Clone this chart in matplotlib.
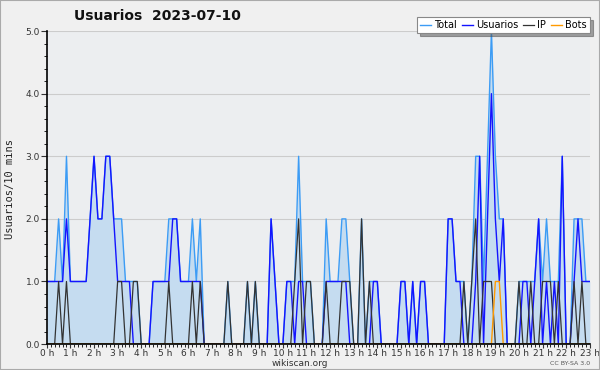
import matplotlib
matplotlib.use("Agg")
import matplotlib.pyplot as plt
import numpy as np

# 10-minute samples, 0:00 .. 23:00
usuarios = [1,1,1,1,1,2,1,1,1,1,1,2,
            3,2,2,3,3,2,1,1,1,1,0,0,
            0,0,0,1,1,1,1,1,2,2,1,1,
            1,1,1,1,0,0,0,0,0,0,0,0,
            0,0,0,0,0,0,0,0,0,2,1,0,
            0,1,1,0,1,1,0,0,0,0,0,1,
            1,1,1,1,1,0,0,0,0,0,0,1,
            1,0,0,0,0,0,1,1,0,1,0,1,
            1,0,0,0,0,0,2,2,1,1,0,0,
            0,1,3,0,2,4,2,1,2,0,0,0,
            0,1,1,0,1,2,0,1,0,1,0,3,
            0,0,1,2,1,1,1]
ip = [0,0,0,1,0,1,0,0,0,0,0,0,
      0,0,0,0,0,0,1,1,0,0,1,1,
      0,0,0,0,0,0,0,1,0,0,0,0,
      0,1,0,1,0,0,0,0,0,0,1,0,
      0,0,0,1,0,1,0,0,0,0,0,0,
      0,0,0,1,2,0,1,1,0,0,0,1,
      0,0,0,1,1,1,0,0,2,0,1,0,
      0,0,0,0,0,0,0,0,0,0,0,0,
      0,0,0,0,0,0,0,0,0,0,1,0,
      1,2,0,1,1,1,0,0,0,0,0,0,
      1,0,0,1,0,0,1,1,1,0,1,0,
      0,0,1,0,1,0,0]
bots = [0,0,0,0,0,0,0,0,0,0,0,0,
        0,0,0,0,0,0,0,0,0,0,0,0,
        0,0,0,0,0,0,0,0,0,0,0,0,
        0,0,0,0,0,0,0,0,0,0,0,0,
        0,0,0,0,0,0,0,0,0,0,0,0,
        0,0,0,0,0,0,0,0,0,0,0,0,
        0,0,0,0,0,0,0,0,0,0,0,0,
        0,0,0,0,0,0,0,0,0,0,0,0,
        0,0,0,0,0,0,0,0,0,0,0,0,
        0,0,0,0,0,0,1,1,0,0,0,0,
        0,0,0,0,0,0,0,0,0,0,0,0,
        0,0,0,0,0,0,0]
total = [1,1,1,2,1,3,1,1,1,1,1,2,
         3,2,2,3,3,2,2,2,1,1,1,1,
         0,0,0,1,1,1,1,2,2,2,1,1,
         1,2,1,2,0,0,0,0,0,0,1,0,
         0,0,0,1,0,1,0,0,0,2,1,0,
         0,1,1,1,3,1,1,1,0,0,0,2,
         1,1,1,2,2,1,0,0,2,0,1,1,
         1,0,0,0,0,0,1,1,0,1,0,1,
         1,0,0,0,0,0,2,2,1,1,1,0,
         1,3,3,1,3,5,3,2,2,0,0,0,
         1,1,1,1,1,2,1,2,1,1,1,3,
         0,0,2,2,2,1,1]
hour_labels = ["%d h" % h for h in range(24)]

x = np.arange(len(total))

fig = plt.figure(figsize=(6, 3.7), dpi=100, facecolor="#f0f0f0")
ax = fig.add_axes([0.078, 0.07, 0.905, 0.846])
ax.set_facecolor("#eceef0")

ax.fill_between(x, total, 0, color="#c5dcf0", lw=0)
ax.plot(x, total, color="#3c9cf5", lw=1, label="Total")
ax.plot(x, usuarios, color="#1414ff", lw=1, label="Usuarios")
ax.plot(x, ip, color="#333333", lw=0.9, label="IP")
ax.plot(x, bots, color="#ff9a00", lw=1, label="Bots")

ax.set_xlim(0, len(total) - 1)
ax.set_ylim(0, 5)
ax.set_yticks(np.arange(0, 5.1, 1))
ax.set_yticklabels(["%.1f" % v for v in np.arange(0, 5.1, 1)])
ax.set_yticks(np.arange(0, 5.01, 0.2), minor=True)
major_x = np.arange(0, len(total), 6)
ax.set_xticks(major_x)
ax.set_xticklabels(hour_labels[:len(major_x)])
ax.set_xticks(x, minor=True)
ax.tick_params(axis="both", which="major", labelsize=6.5, colors="#333333", length=4, pad=1)
ax.tick_params(axis="x", which="major", length=3, pad=0.5)
ax.tick_params(axis="both", which="minor", length=2.5)
ax.yaxis.grid(True, color="#cccccc", lw=0.8)
ax.set_axisbelow(True)
for s in ("top", "right"):
    ax.spines[s].set_visible(False)
ax.spines["left"].set_linewidth(1.2)
ax.spines["bottom"].set_linewidth(1.2)

fig.text(0.123, 0.956, "Usuarios  2023-07-10", fontsize=10, fontweight="bold",
         va="center", ha="left", color="#111111")
fig.text(0.016, 0.49, "Usuarios/10 mins", rotation=90, fontsize=7.5,
         family="DejaVu Sans Mono", va="center", ha="center", color="#222222")
fig.text(0.5, 0.018, "wikiscan.org", fontsize=6.5, ha="center", va="center", color="#333333")
fig.text(0.983, 0.018, "CC BY-SA 3.0", fontsize=4.5, ha="right", va="center", color="#555555")

leg = ax.legend(loc="upper right", bbox_to_anchor=(1.0, 1.045), ncol=4, fontsize=7,
                frameon=True, fancybox=False, shadow=True, handlelength=1.1,
                handletextpad=0.35, columnspacing=0.5, borderpad=0.3, borderaxespad=0)
leg.get_frame().set_edgecolor("#888888")
leg.get_frame().set_linewidth(0.8)

fig.patches.append(plt.Rectangle((0, 0), 1, 1, transform=fig.transFigure,
                                 fill=False, edgecolor="#aaaaaa", lw=1.5))
fig.savefig("out.png", dpi=100, facecolor=fig.get_facecolor())
